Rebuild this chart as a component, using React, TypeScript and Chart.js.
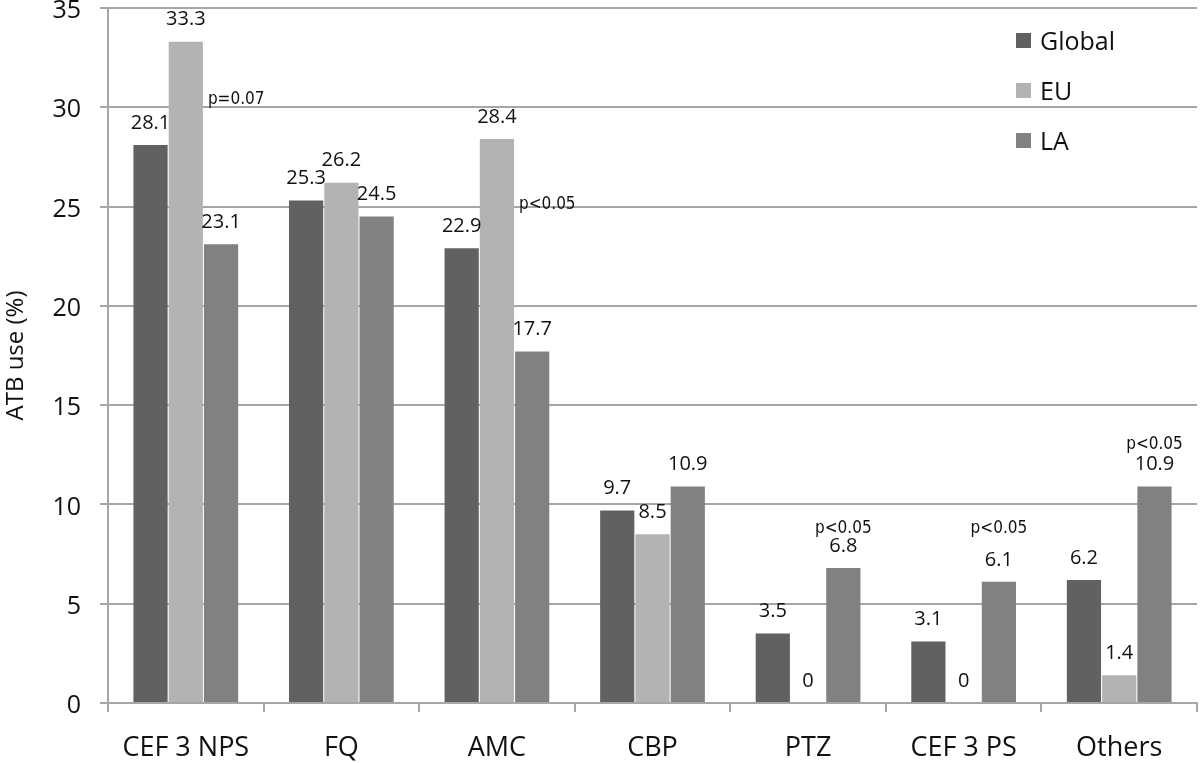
import React, { useEffect, useRef } from "react";
import { Chart, registerables } from "chart.js";

Chart.register(...registerables);

const categories = ["CEF 3 NPS", "FQ", "AMC", "CBP", "PTZ", "CEF 3 PS", "Others"];
const seriesNames = ["Global", "EU", "LA"];
const globalValues = [28.1, 25.3, 22.9, 9.7, 3.5, 3.1, 6.2];
const euValues = [33.3, 26.2, 28.4, 8.5, 0, 0, 1.4];
const laValues = [23.1, 24.5, 17.7, 10.9, 6.8, 6.1, 10.9];
const seriesColors = ["#616161", "#b3b3b3", "#818181"];
const yTicks = [0, 5, 10, 15, 20, 25, 30, 35];

// p-value notes: category index, series anchor, value (y position), text, placement
const noteCategory = [0, 2, 4, 5, 6];
const noteSeries = [1, 1, 2, 2, 2];
const noteValue = [30.37, 25.1, 8.76, 8.8, 13.0];
const noteText = ["p=0.07", "p<0.05", "p<0.05", "p<0.05", "p<0.05"];
const notePlace = ["right", "right", "above", "above", "above"];

const SANS = "'Open Sans', Lato, sans-serif";
const NARROW = "'DejaVu Sans Condensed', 'Liberation Sans', sans-serif";

const labelsPlugin = {
  id: "valueLabels",
  afterDatasetsDraw(chart: any) {
    const ctx = chart.ctx;
    ctx.save();
    ctx.fillStyle = "#111";
    ctx.textAlign = "center";
    ctx.textBaseline = "middle";
    ctx.font = `20px ${SANS}`;
    chart.data.datasets.forEach((ds: any, di: number) => {
      const meta = chart.getDatasetMeta(di);
      meta.data.forEach((bar: any, i: number) => {
        ctx.fillText(String(ds.data[i]), bar.x, bar.y - 22);
      });
    });
    // p-value notes
    ctx.font = `17px ${NARROW}`;
    const yScale = chart.scales.y;
    noteText.forEach((t, k) => {
      const bar: any = chart.getDatasetMeta(noteSeries[k]).data[noteCategory[k]];
      const y = yScale.getPixelForValue(noteValue[k]);
      if (notePlace[k] === "right") {
        ctx.textAlign = "left";
        ctx.fillText(t, bar.x + bar.width / 2 + 5, y);
      } else {
        ctx.textAlign = "center";
        ctx.fillText(t, bar.x, y);
      }
    });
    // legend
    ctx.font = `25px ${SANS}`;
    ctx.textAlign = "left";
    chart.data.datasets.forEach((ds: any, di: number) => {
      const cy = 43 + di * 50;
      ctx.fillStyle = seriesColors[di];
      ctx.fillRect(1016, cy - 10, 15, 15);
      ctx.fillStyle = "#111";
      ctx.fillText(ds.label, 1040, cy);
    });
    ctx.restore();
  },
};

export default function App() {
  const ref = useRef<HTMLCanvasElement | null>(null);
  useEffect(() => {
    if (!ref.current) return;
    const values = [globalValues, euValues, laValues];
    const chart = new Chart(ref.current, {
      type: "bar",
      data: {
        labels: categories,
        datasets: seriesNames.map((name, i) => ({
          label: name,
          data: values[i],
          backgroundColor: seriesColors[i],
          borderWidth: 0,
          categoryPercentage: 0.68,
          barPercentage: 0.97,
        })),
      },
      options: {
        animation: false,
        responsive: false,
        maintainAspectRatio: false,
        devicePixelRatio: 1,
        layout: { padding: { top: 8, right: 3, left: 0, bottom: 0 } },
        plugins: {
          legend: { display: false },
          tooltip: { enabled: false },
        },
        scales: {
          x: {
            grid: {
              offset: true,
              drawOnChartArea: false,
              drawTicks: true,
              tickLength: 9,
              color: "#a6a6a6",
              lineWidth: 2,
            },
            border: { display: true, color: "#a6a6a6", width: 2 },
            ticks: {
              color: "#111",
              font: { size: 27, family: SANS },
              padding: 20,
              maxRotation: 0,
            },
            afterFit(scale: any) {
              scale.height = 60;
              scale.paddingLeft = 0;
              scale.paddingRight = 0;
            },
          },
          y: {
            min: 0,
            max: 35,
            afterBuildTicks(scale: any) {
              scale.ticks = yTicks.map((v) => ({ value: v }));
            },
            grid: {
              color: "#a6a6a6",
              lineWidth: 2,
              drawTicks: true,
              tickLength: 8,
            },
            border: { display: true, color: "#a6a6a6", width: 2 },
            ticks: {
              color: "#111",
              font: { size: 25, family: SANS },
              padding: 19,
              labelOffset: 3,
            },
            title: {
              display: true,
              text: "ATB use (%)",
              color: "#111",
              font: { size: 24, family: SANS },
              padding: { top: 2, bottom: 0 },
            },
            afterFit(scale: any) {
              scale.width = 108;
              scale.paddingTop = 0;
              scale.paddingBottom = 0;
            },
          },
        },
      },
      plugins: [labelsPlugin],
    });
    return () => chart.destroy();
  }, []);
  return (
    <div style={{ position: "fixed", left: 0, top: 0, width: 1200, height: 763, background: "#fff" }}>
      <canvas ref={ref} width={1200} height={763} style={{ width: 1200, height: 763 }} />
    </div>
  );
}
